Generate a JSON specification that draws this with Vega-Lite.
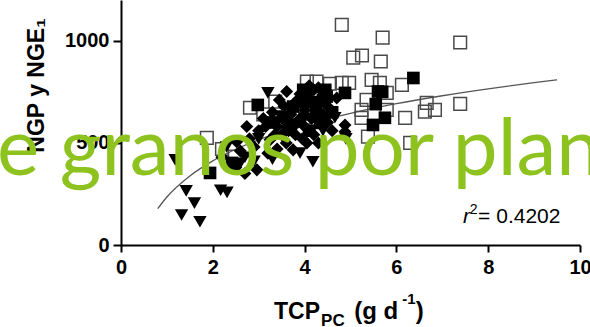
{
  "$schema": "https://vega.github.io/schema/vega-lite/v6.json",
  "width": 459,
  "height": 245,
  "autosize": {"type": "none"},
  "padding": {"left": 121, "top": 0, "right": 10, "bottom": 82},
  "background": "white",
  "config": {"view": {"stroke": null}, "font": "Liberation Sans"},
  "datasets": {
    "fit": [
      {"x": 0.8, "y": 178}, {"x": 1.0, "y": 235}, {"x": 1.5, "y": 338}, {"x": 2.0, "y": 412},
      {"x": 2.5, "y": 469}, {"x": 3.0, "y": 515}, {"x": 3.5, "y": 554}, {"x": 4.0, "y": 588},
      {"x": 5.0, "y": 645}, {"x": 6.0, "y": 692}, {"x": 7.0, "y": 731}, {"x": 8.0, "y": 765},
      {"x": 9.0, "y": 795}, {"x": 9.5, "y": 809}
    ],
    "pts": [
      {"x": 4.81, "y": 1078, "g": "open"}, {"x": 5.70, "y": 1016, "g": "open"}, {"x": 5.06, "y": 918, "g": "open"},
      {"x": 5.25, "y": 928, "g": "open"}, {"x": 5.66, "y": 899, "g": "open"}, {"x": 6.12, "y": 784, "g": "open"},
      {"x": 5.46, "y": 809, "g": "open"}, {"x": 4.81, "y": 794, "g": "open"}, {"x": 4.97, "y": 794, "g": "open"},
      {"x": 5.64, "y": 794, "g": "open"}, {"x": 5.35, "y": 711, "g": "open"}, {"x": 5.79, "y": 745, "g": "open"},
      {"x": 6.66, "y": 696, "g": "open"}, {"x": 6.84, "y": 662, "g": "open"}, {"x": 6.62, "y": 653, "g": "open"},
      {"x": 6.19, "y": 623, "g": "open"}, {"x": 5.24, "y": 662, "g": "open"}, {"x": 5.24, "y": 623, "g": "open"},
      {"x": 5.79, "y": 662, "g": "open"}, {"x": 5.38, "y": 531, "g": "open"}, {"x": 6.30, "y": 500, "g": "open"},
      {"x": 2.81, "y": 672, "g": "open"}, {"x": 3.36, "y": 702, "g": "open"}, {"x": 4.05, "y": 800, "g": "open"},
      {"x": 4.26, "y": 800, "g": "open"}, {"x": 2.48, "y": 433, "g": "open"}, {"x": 1.87, "y": 525, "g": "open"},
      {"x": 7.39, "y": 992, "g": "open"}, {"x": 7.39, "y": 691, "g": "open"}, {"x": 2.2, "y": 470, "g": "open"},
      {"x": 4.55, "y": 790, "g": "open"}, {"x": 3.1, "y": 640, "g": "open"},
      {"x": 6.37, "y": 818, "g": "sq"}, {"x": 5.60, "y": 752, "g": "sq"}, {"x": 4.88, "y": 745, "g": "sq"},
      {"x": 5.75, "y": 623, "g": "sq"}, {"x": 5.49, "y": 588, "g": "sq"}, {"x": 2.98, "y": 686, "g": "sq"},
      {"x": 3.97, "y": 760, "g": "sq"}, {"x": 3.75, "y": 678, "g": "sq"}, {"x": 3.53, "y": 629, "g": "sq"},
      {"x": 4.34, "y": 598, "g": "sq"}, {"x": 4.48, "y": 727, "g": "sq"}, {"x": 5.69, "y": 750, "g": "sq"},
      {"x": 1.94, "y": 353, "g": "sq"}, {"x": 2.42, "y": 402, "g": "sq"}, {"x": 4.2, "y": 700, "g": "sq"},
      {"x": 4.6, "y": 650, "g": "sq"}, {"x": 3.3, "y": 600, "g": "sq"}, {"x": 5.55, "y": 690, "g": "sq"},
      {"x": 4.1, "y": 560, "g": "sq"}, {"x": 4.45, "y": 760, "g": "sq"}, {"x": 3.7, "y": 590, "g": "sq"},
      {"x": 4.25, "y": 650, "g": "sq"}, {"x": 3.95, "y": 700, "g": "sq"}, {"x": 4.4, "y": 710, "g": "sq"},
      {"x": 3.61, "y": 752, "g": "dia"}, {"x": 3.75, "y": 466, "g": "dia"}, {"x": 4.05, "y": 500, "g": "dia"},
      {"x": 2.96, "y": 368, "g": "dia"}, {"x": 4.88, "y": 588, "g": "dia"}, {"x": 4.88, "y": 555, "g": "dia"},
      {"x": 2.74, "y": 580, "g": "dia"}, {"x": 2.52, "y": 506, "g": "dia"}, {"x": 3.25, "y": 515, "g": "dia"},
      {"x": 3.0, "y": 560, "g": "dia"}, {"x": 3.1, "y": 620, "g": "dia"}, {"x": 3.3, "y": 650, "g": "dia"},
      {"x": 3.4, "y": 580, "g": "dia"}, {"x": 3.5, "y": 540, "g": "dia"}, {"x": 3.6, "y": 600, "g": "dia"},
      {"x": 3.7, "y": 640, "g": "dia"}, {"x": 3.8, "y": 700, "g": "dia"}, {"x": 3.9, "y": 620, "g": "dia"},
      {"x": 4.0, "y": 660, "g": "dia"}, {"x": 4.1, "y": 720, "g": "dia"}, {"x": 4.2, "y": 760, "g": "dia"},
      {"x": 4.3, "y": 690, "g": "dia"}, {"x": 4.4, "y": 640, "g": "dia"}, {"x": 4.5, "y": 600, "g": "dia"},
      {"x": 4.0, "y": 580, "g": "dia"}, {"x": 3.8, "y": 540, "g": "dia"}, {"x": 3.6, "y": 500, "g": "dia"},
      {"x": 3.4, "y": 470, "g": "dia"}, {"x": 3.2, "y": 450, "g": "dia"}, {"x": 2.9, "y": 480, "g": "dia"},
      {"x": 2.8, "y": 520, "g": "dia"}, {"x": 2.6, "y": 460, "g": "dia"}, {"x": 4.2, "y": 540, "g": "dia"},
      {"x": 4.3, "y": 500, "g": "dia"}, {"x": 4.6, "y": 560, "g": "dia"}, {"x": 4.1, "y": 780, "g": "dia"},
      {"x": 4.3, "y": 770, "g": "dia"}, {"x": 3.9, "y": 740, "g": "dia"}, {"x": 3.55, "y": 680, "g": "dia"},
      {"x": 3.45, "y": 710, "g": "dia"}, {"x": 4.7, "y": 720, "g": "dia"}, {"x": 4.5, "y": 680, "g": "dia"},
      {"x": 2.2, "y": 430, "g": "dia"}, {"x": 2.5, "y": 380, "g": "dia"}, {"x": 2.7, "y": 350, "g": "dia"},
      {"x": 2.35, "y": 390, "g": "dia"}, {"x": 3.15, "y": 580, "g": "dia"}, {"x": 3.65, "y": 560, "g": "dia"},
      {"x": 3.85, "y": 600, "g": "dia"}, {"x": 4.15, "y": 620, "g": "dia"}, {"x": 3.35, "y": 540, "g": "dia"},
      {"x": 4.05, "y": 740, "g": "dia"}, {"x": 3.95, "y": 520, "g": "dia"},
      {"x": 3.20, "y": 745, "g": "tri"}, {"x": 4.66, "y": 623, "g": "tri"}, {"x": 4.18, "y": 408, "g": "tri"},
      {"x": 1.42, "y": 265, "g": "tri"}, {"x": 1.60, "y": 205, "g": "tri"}, {"x": 1.32, "y": 147, "g": "tri"},
      {"x": 1.72, "y": 114, "g": "tri"}, {"x": 2.17, "y": 268, "g": "tri"}, {"x": 2.31, "y": 258, "g": "tri"},
      {"x": 1.18, "y": 417, "g": "tri"}, {"x": 2.6, "y": 400, "g": "tri"}, {"x": 2.7, "y": 430, "g": "tri"},
      {"x": 3.0, "y": 520, "g": "tri"}, {"x": 3.6, "y": 560, "g": "tri"}, {"x": 3.9, "y": 450, "g": "tri"},
      {"x": 4.9, "y": 520, "g": "tri"}, {"x": 4.0, "y": 620, "g": "tri"}, {"x": 2.3, "y": 480, "g": "tri"},
      {"x": 2.9, "y": 410, "g": "tri"}, {"x": 3.3, "y": 420, "g": "tri"}, {"x": 3.5, "y": 620, "g": "tri"},
      {"x": 4.4, "y": 560, "g": "tri"}
    ]
  },
  "layer": [
    {
      "data": {"name": "fit"},
      "mark": {"type": "line", "color": "#555555", "strokeWidth": 1.3, "interpolate": "monotone"},
      "encoding": {
        "x": {
          "field": "x", "type": "quantitative",
          "scale": {"domain": [0, 10], "nice": false, "zero": false},
          "axis": {
            "values": [0, 2, 4, 6, 8, 10], "title": null, "grid": false, "format": "d",
            "domainColor": "black", "domainWidth": 2, "tickColor": "black", "tickWidth": 2, "tickSize": 7,
            "labelFont": "Liberation Sans", "labelFontWeight": "bold", "labelFontSize": 20, "labelColor": "black",
            "labelPadding": 5, "labelOverlap": false, "labelFlush": false, "labelBound": false
          }
        },
        "y": {
          "field": "y", "type": "quantitative",
          "scale": {"domain": [0, 1200], "nice": false, "zero": false},
          "axis": {
            "values": [0, 500, 1000], "title": "NGP y NGE₁", "grid": false, "format": "d",
            "domainColor": "black", "domainWidth": 2, "tickColor": "black", "tickWidth": 2, "tickSize": 8,
            "labelFont": "Liberation Sans", "labelFontWeight": "bold", "labelFontSize": 20, "labelColor": "black",
            "labelPadding": 4, "labelOverlap": false, "labelFlush": false,
            "titleFont": "Liberation Sans", "titleFontWeight": "bold", "titleFontSize": 23, "titleColor": "black",
            "titleAngle": -90, "titleAlign": "center", "titleBaseline": "alphabetic", "titleX": -78, "titleY": 85
          }
        }
      }
    },
    {
      "data": {"name": "pts"},
      "transform": [{"filter": "datum.g === 'open'"}],
      "mark": {"type": "point", "shape": "square", "filled": false, "stroke": "#4a4a4a", "strokeWidth": 1.5, "size": 160, "opacity": 1},
      "encoding": {
        "x": {"field": "x", "type": "quantitative"},
        "y": {"field": "y", "type": "quantitative"}
      }
    },
    {
      "data": {"name": "pts"},
      "transform": [{"filter": "datum.g !== 'open'"}],
      "mark": {"type": "point", "filled": true, "color": "black", "opacity": 1},
      "encoding": {
        "x": {"field": "x", "type": "quantitative"},
        "y": {"field": "y", "type": "quantitative"},
        "shape": {"field": "g", "type": "nominal", "scale": {"domain": ["sq", "dia", "tri"], "range": ["square", "diamond", "triangle-down"]}, "legend": null},
        "size": {"field": "g", "type": "nominal", "scale": {"domain": ["sq", "dia", "tri"], "range": [160, 180, 150]}, "legend": null}
      }
    },
    {
      "data": {"values": [{"label": "r"}]},
      "mark": {"type": "text", "font": "Liberation Sans", "fontStyle": "italic", "fontSize": 21, "align": "left", "baseline": "alphabetic", "fill": "black"},
      "encoding": {"text": {"field": "label"}, "x": {"datum": 7.45}, "y": {"datum": 108}}
    },
    {
      "data": {"values": [{"label": "2"}]},
      "mark": {"type": "text", "font": "Liberation Sans", "fontSize": 14, "align": "left", "baseline": "alphabetic", "fill": "black"},
      "encoding": {"text": {"field": "label"}, "x": {"datum": 7.60}, "y": {"datum": 150}}
    },
    {
      "data": {"values": [{"label": "= 0.4202"}]},
      "mark": {"type": "text", "font": "Liberation Sans", "fontSize": 21, "align": "left", "baseline": "alphabetic", "fill": "black"},
      "encoding": {"text": {"field": "label"}, "x": {"datum": 7.78}, "y": {"datum": 108}}
    },
    {
      "data": {"values": [{"label": "TCP"}]},
      "mark": {"type": "text", "font": "Liberation Sans", "fontWeight": "bold", "fontSize": 23, "align": "right", "baseline": "alphabetic", "fill": "black"},
      "encoding": {"text": {"field": "label"}, "x": {"datum": 4.335}, "y": {"datum": -363}}
    },
    {
      "data": {"values": [{"label": "PC"}]},
      "mark": {"type": "text", "font": "Liberation Sans", "fontWeight": "bold", "fontSize": 17, "align": "left", "baseline": "alphabetic", "fill": "black"},
      "encoding": {"text": {"field": "label"}, "x": {"datum": 4.36}, "y": {"datum": -395}}
    },
    {
      "data": {"values": [{"label": "(g d"}]},
      "mark": {"type": "text", "font": "Liberation Sans", "fontWeight": "bold", "fontSize": 24, "align": "left", "baseline": "alphabetic", "fill": "black"},
      "encoding": {"text": {"field": "label"}, "x": {"datum": 5.08}, "y": {"datum": -363}}
    },
    {
      "data": {"values": [{"label": "-1"}]},
      "mark": {"type": "text", "font": "Liberation Sans", "fontWeight": "bold", "fontSize": 15, "align": "left", "baseline": "alphabetic", "fill": "black"},
      "encoding": {"text": {"field": "label"}, "x": {"datum": 6.13}, "y": {"datum": -289}}
    },
    {
      "data": {"values": [{"label": ")"}]},
      "mark": {"type": "text", "font": "Liberation Sans", "fontWeight": "bold", "fontSize": 24, "align": "left", "baseline": "alphabetic", "fill": "black"},
      "encoding": {"text": {"field": "label"}, "x": {"datum": 6.42}, "y": {"datum": -363}}
    },
    {
      "data": {"values": [{"label": "e granos por plan"}]},
      "mark": {"type": "text", "font": "Lato", "fontSize": 80, "align": "left", "baseline": "alphabetic", "fill": "#8DC21F"},
      "encoding": {"text": {"field": "label"}, "x": {"datum": -2.70}, "y": {"datum": 343}}
    }
  ]
}
